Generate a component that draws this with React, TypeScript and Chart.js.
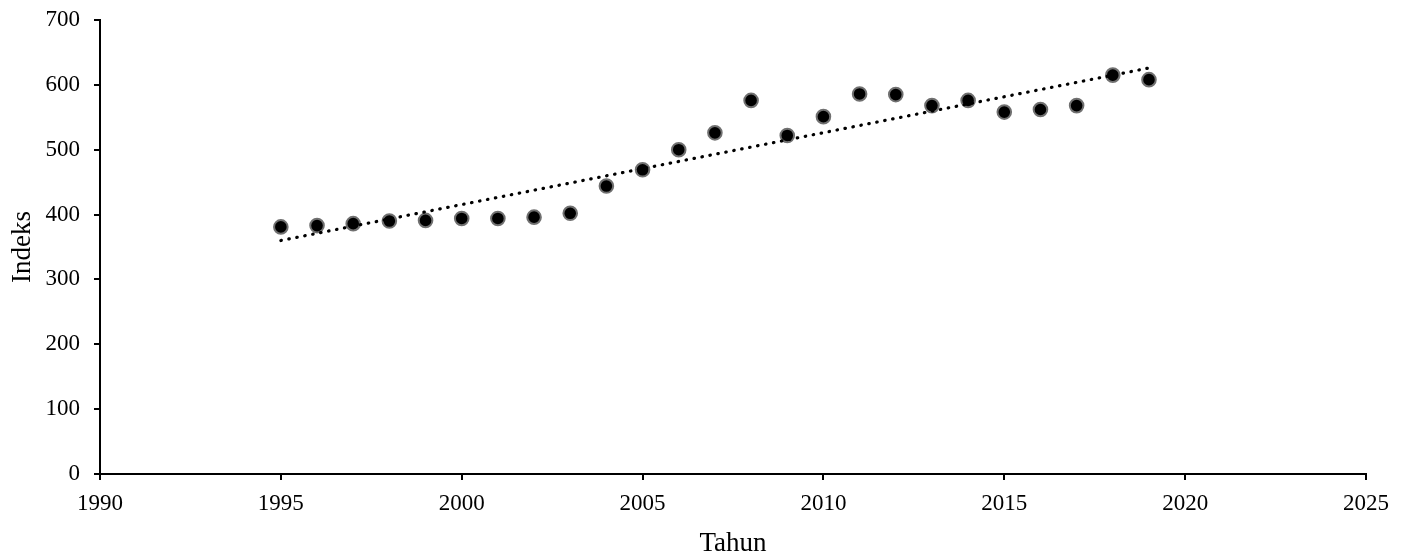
import React, { useEffect, useRef } from "react";
import { Chart, registerables } from "chart.js";

Chart.register(...registerables);

const years = [1995, 1996, 1997, 1998, 1999, 2000, 2001, 2002, 2003, 2004, 2005, 2006, 2007, 2008, 2009, 2010, 2011, 2012, 2013, 2014, 2015, 2016, 2017, 2018, 2019];
const indeks = [381, 383, 386, 390, 391, 394, 394, 396, 402, 444, 469, 500, 526, 576, 522, 551, 586, 585, 568, 576, 558, 562, 568, 615, 608];

const trendYears = [1995, 2019];
const trendValues = [360, 626];

const xTitle = "Tahun";
const yTitle = "Indeks";

const FONT = "'Liberation Serif', 'Times New Roman', serif";

export default function App() {
  const ref = useRef<HTMLCanvasElement | null>(null);

  useEffect(() => {
    if (!ref.current) return;
    const points = years.map((y, i) => ({ x: y, y: indeks[i] }));
    const trend = trendYears.map((y, i) => ({ x: y, y: trendValues[i] }));
    const chart = new Chart(ref.current, {
      type: "scatter",
      data: {
        datasets: [
          {
            type: "line",
            label: "Trend",
            data: trend,
            showLine: true,
            borderColor: "#000",
            borderWidth: 3.2,
            borderDash: [0.5, 7.6],
            borderCapStyle: "round",
            pointRadius: 0,
            fill: false,
          } as any,
          {
            label: "Indeks",
            data: points,
            pointRadius: 6.8,
            pointBackgroundColor: "#000",
            pointBorderColor: "#707070",
            pointBorderWidth: 2,
          },
        ],
      },
      options: {
        animation: false,
        responsive: false,
        layout: { padding: { top: 20, right: 40, left: 0, bottom: 0 } },
        plugins: { legend: { display: false }, tooltip: { enabled: false } },
        scales: {
          x: {
            type: "linear",
            min: 1990,
            max: 2025,
            afterFit: (s: any) => {
              s.height = 82;
              s.paddingLeft = 0;
              s.paddingRight = 0;
            },
            ticks: {
              stepSize: 5,
              color: "#000",
              font: { family: FONT, size: 23 },
              padding: 10,
              maxRotation: 0,
              autoSkip: false,
              callback: (v: any) => String(v),
            },
            grid: { drawOnChartArea: false, drawTicks: true, tickLength: 6, color: "#000", lineWidth: 2 },
            border: { display: true, color: "#000", width: 2 },
            title: {
              display: true,
              text: xTitle,
              color: "#000",
              font: { family: FONT, size: 27, lineHeight: 1 },
              padding: { top: 0, bottom: -1 },
            },
          },
          y: {
            type: "linear",
            min: 0,
            max: 700,
            afterFit: (s: any) => {
              s.width = 100;
              s.paddingTop = 0;
              s.paddingBottom = 0;
            },
            ticks: {
              stepSize: 100,
              color: "#000",
              font: { family: FONT, size: 23 },
              padding: 14,
              callback: (v: any) => String(v),
            },
            grid: { drawOnChartArea: false, drawTicks: true, tickLength: 6, color: "#000", lineWidth: 2 },
            border: { display: true, color: "#000", width: 2 },
            title: {
              display: true,
              text: yTitle,
              color: "#000",
              font: { family: FONT, size: 27, lineHeight: 1 },
              padding: { top: 9, bottom: 0 },
            },
          },
        },
      },
    });
    return () => chart.destroy();
  }, []);

  return (
    <div style={{ position: "fixed", left: 0, top: 0, width: 1406, height: 556, background: "#fff" }}>
      <canvas ref={ref} width={1406} height={556} />
    </div>
  );
}
